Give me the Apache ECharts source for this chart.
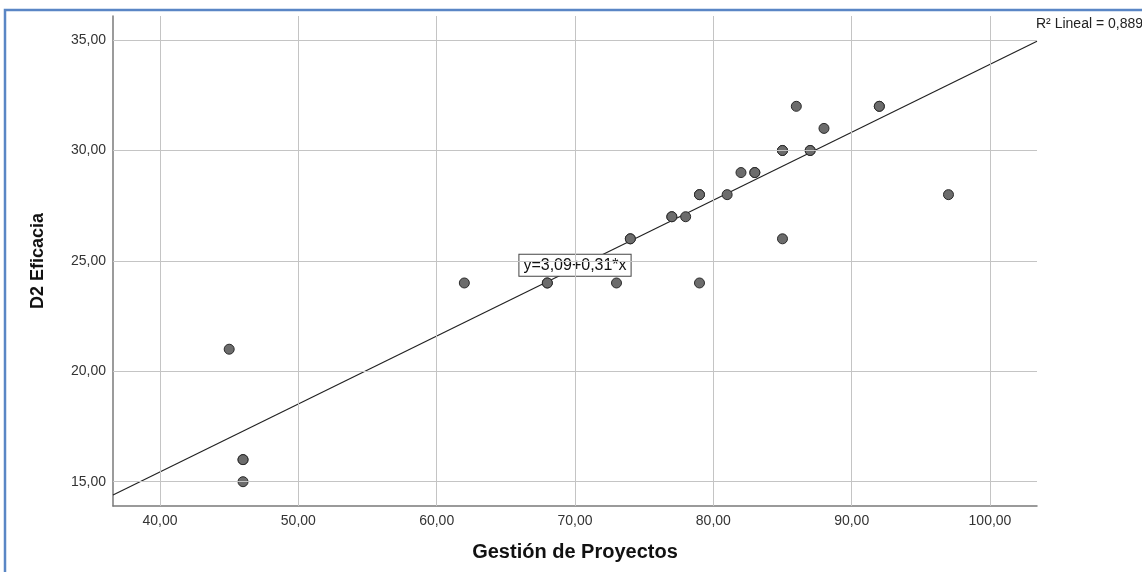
<!DOCTYPE html>
<html>
<head>
<meta charset="utf-8">
<script src="https://cdn.jsdelivr.net/npm/echarts@6/dist/echarts.min.js"></script>
<style>
  html, body { margin: 0; padding: 0; background: #fff; }
  #chart { width: 1142px; height: 572px; }
</style>
</head>
<body>
<div id="chart"></div>
<script>
// valores (Gestión de Proyectos, D2 Eficacia)
var gestion = [45, 46, 46, 46, 62, 68, 68, 73, 74, 74, 77, 77, 78, 79, 79, 79, 81, 82, 83, 83, 85, 85, 85, 86, 87, 87, 88, 92, 92, 97];
var eficacia = [21, 16, 16, 15, 24, 24, 24, 24, 26, 26, 27, 27, 27, 28, 28, 24, 28, 29, 29, 29, 30, 30, 26, 32, 30, 30, 31, 32, 32, 28];

// marcas de los ejes
var xTicks = [40, 50, 60, 70, 80, 90, 100];
var yTicks = [15, 20, 25, 30, 35];

// recta de ajuste (extremos leídos) y su rótulo
var ajusteX = [36.6, 103.4];
var ajusteY = [14.4, 34.95];
var ecuacion = 'y=3,09+0,31*x';
var ecuacionPos = [70, 24.8];
var r2Texto = 'R² Lineal = 0,889';

var fuente = '"Liberation Sans", Arial, sans-serif';

function coma(v) {
  return v.toFixed(2).replace('.', ',');
}

var puntos = gestion.map(function (x, i) { return [x, eficacia[i]]; });
var recta = ajusteX.map(function (x, i) { return [x, ajusteY[i]]; });

var lineasGuia = yTicks.map(function (v) { return { yAxis: v }; })
  .concat(xTicks.map(function (v) { return { xAxis: v }; }));

var chart = echarts.init(document.getElementById('chart'), null, { renderer: 'canvas' });

var option = {
  animation: false,
  backgroundColor: '#fff',
  textStyle: { fontFamily: fuente },
  grid: { left: 113, top: 16, width: 924, height: 490, containLabel: false, outerBoundsMode: 'none' },
  xAxis: {
    type: 'value',
    min: 36.6,
    max: 103.4,
    name: 'Gestión de Proyectos',
    nameLocation: 'middle',
    nameGap: 36,
    nameTextStyle: { fontSize: 20, fontWeight: 'bold', color: '#111', fontFamily: fuente },
    axisLine: { show: true, lineStyle: { color: '#7a7a7a', width: 1.5 } },
    axisTick: { show: false },
    splitLine: { show: false },
    axisLabel: {
      customValues: xTicks,
      formatter: coma,
      fontSize: 14,
      color: '#333',
      margin: 8,
      fontFamily: fuente
    }
  },
  yAxis: {
    type: 'value',
    min: 13.9,
    max: 36.09,
    name: 'D2 Eficacia',
    nameLocation: 'middle',
    nameGap: 66,
    nameRotate: 90,
    nameTextStyle: { fontSize: 18, fontWeight: 'bold', color: '#111', fontFamily: fuente },
    axisLine: { show: true, lineStyle: { color: '#7a7a7a', width: 1.5 } },
    axisTick: { show: false },
    splitLine: { show: false },
    axisLabel: {
      customValues: yTicks,
      formatter: coma,
      fontSize: 14,
      color: '#333',
      margin: 7,
      fontFamily: fuente
    }
  },
  graphic: [
    {
      type: 'rect',
      shape: { x: 5, y: 10, width: 1160, height: 600 },
      style: { fill: 'none', stroke: '#5a86c5', lineWidth: 2.5 },
      silent: true,
      z: 100
    },
    {
      type: 'text',
      left: 1036,
      top: 17,
      style: { text: r2Texto, fontSize: 14, fill: '#222', fontFamily: fuente },
      silent: true
    }
  ],
  series: [
    {
      name: 'rejilla',
      type: 'scatter',
      data: [],
      z: 1,
      markLine: {
        silent: true,
        symbol: ['none', 'none'],
        label: { show: false },
        lineStyle: { color: '#c4c4c4', type: 'solid', width: 1 },
        data: lineasGuia
      }
    },
    {
      name: 'ajuste',
      type: 'line',
      data: recta,
      symbol: 'none',
      lineStyle: { color: '#222', width: 1.2 },
      z: 2
    },
    {
      name: 'casos',
      type: 'scatter',
      data: puntos,
      symbol: 'circle',
      symbolSize: 10,
      itemStyle: { color: '#6c6c6c', borderColor: '#2a2a2a', borderWidth: 1, opacity: 1 },
      z: 3
    },
    {
      name: 'ecuacion',
      type: 'scatter',
      data: [ecuacionPos],
      symbolSize: 0,
      z: 4,
      itemStyle: { opacity: 1 },
      label: {
        show: true,
        position: 'inside',
        formatter: ecuacion,
        fontSize: 16,
        color: '#111',
        fontFamily: fuente,
        backgroundColor: '#fff',
        borderColor: '#444',
        borderWidth: 1,
        padding: [3, 4, 2, 4]
      }
    }
  ]
};

chart.setOption(option);
</script>
</body>
</html>
